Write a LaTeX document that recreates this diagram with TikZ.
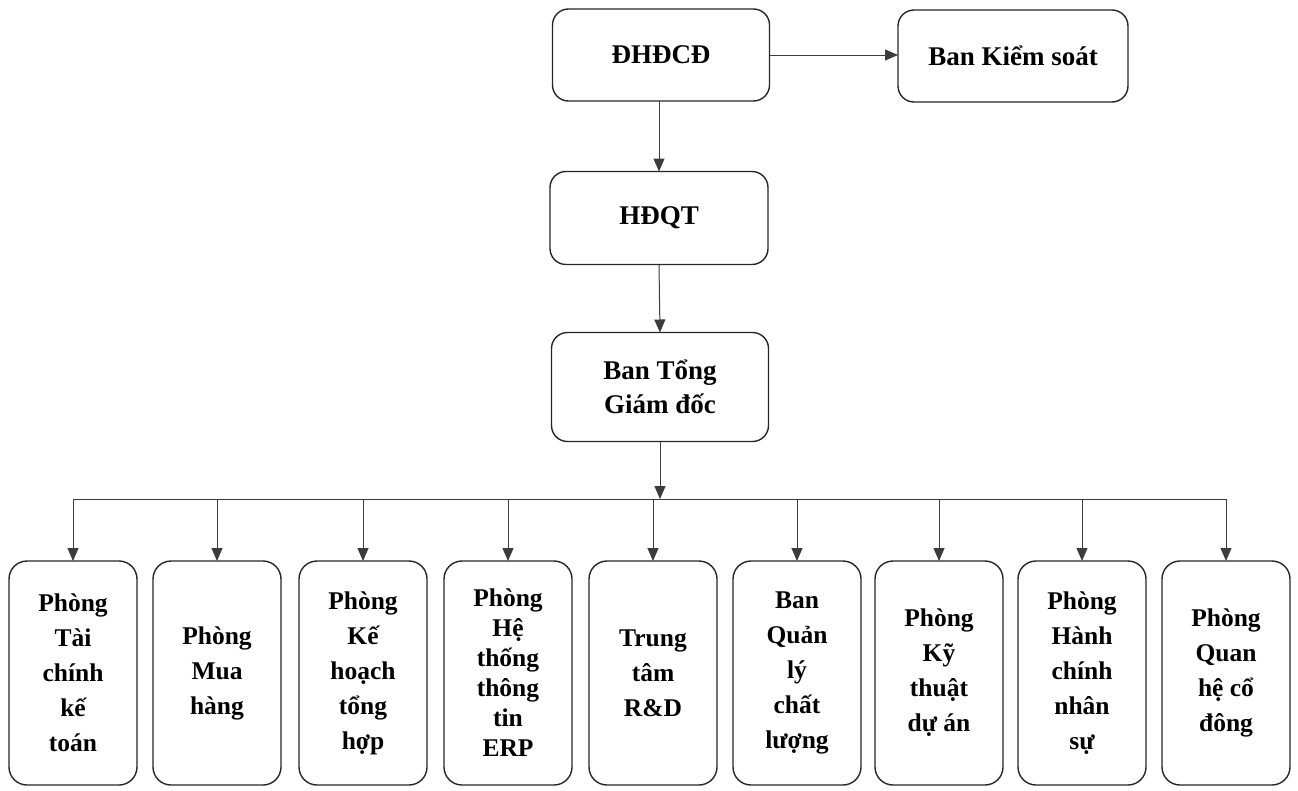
\documentclass[tikz,border=0pt]{standalone}
\usepackage{fontspec}
\setmainfont{Liberation Serif}
\usetikzlibrary{arrows.meta}
\definecolor{boxline}{HTML}{262626}
\definecolor{arrline}{HTML}{3C3C3C}
\tikzset{
  topbox/.style={draw=boxline, line width=1.4pt, rounded corners=16pt,
    outer sep=0pt, align=center, font=\fontsize{27}{34}\selectfont\bfseries},
  unitbox/.style={draw=boxline, line width=1.4pt, rounded corners=18pt,
    outer sep=0pt, align=center, minimum width=128pt, minimum height=224pt,
    font=\fontsize{25.5}{35}\selectfont\bfseries},
  link/.style={draw=arrline, line width=1pt,
    -{Triangle[length=13pt,width=11pt]}}
}
\begin{document}
\begin{tikzpicture}[x=1pt, y=-1pt]
  \useasboundingbox (0,0) rectangle (1298,790);

  % Cap tren
  \node[topbox, minimum width=217pt, minimum height=92pt] (dhdcd) at (661,55) {ĐHĐCĐ};
  \node[topbox, minimum width=230pt, minimum height=92pt] (bks) at (1013,56) {Ban Kiểm soát};
  \node[topbox, minimum width=218pt, minimum height=93pt] (hdqt) at (659,218) {HĐQT};
  \node[topbox, minimum width=217pt, minimum height=109pt] (btgd) at (660,387) {Ban Tổng\\Giám đốc};

  \draw[link] (dhdcd.east) -- (dhdcd.east -| bks.west);
  \draw[link] (dhdcd.south -| hdqt.north) -- (hdqt.north);
  \draw[link] (hdqt.south) -- (btgd.north);

  % Cac phong ban
  \node[unitbox] (p1) at (73,673) {Phòng\\Tài\\chính\\kế\\toán};
  \node[unitbox] (p2) at (217,673) {Phòng\\Mua\\hàng};
  \node[unitbox] (p3) at (363,673) {Phòng\\Kế\\hoạch\\tổng\\hợp};
  \node[unitbox, font=\fontsize{25.5}{30}\selectfont\bfseries] (p4) at (508,673) {Phòng\\Hệ\\thống\\thông\\tin\\ERP};
  \node[unitbox] (p5) at (653,673) {Trung\\tâm\\R\&D};
  \node[unitbox] (p6) at (797,673) {Ban\\Quản\\lý\\chất\\lượng};
  \node[unitbox] (p7) at (939,673) {Phòng\\Kỹ\\thuật\\dự án};
  \node[unitbox] (p8) at (1082,673) {Phòng\\Hành\\chính\\nhân\\sự};
  \node[unitbox] (p9) at (1226,673) {Phòng\\Quan\\hệ cổ\\đông};

  % Thanh ngang
  \coordinate (bus) at (660,499);
  \draw[link] (btgd.south) -- (btgd.south |- bus);
  \draw[draw=arrline, line width=1pt] (p1.north |- bus) -- (p9.north |- bus);
  \foreach \i in {1,...,9}
    \draw[link] (p\i.north |- bus) -- (p\i.north);
\end{tikzpicture}
\end{document}
